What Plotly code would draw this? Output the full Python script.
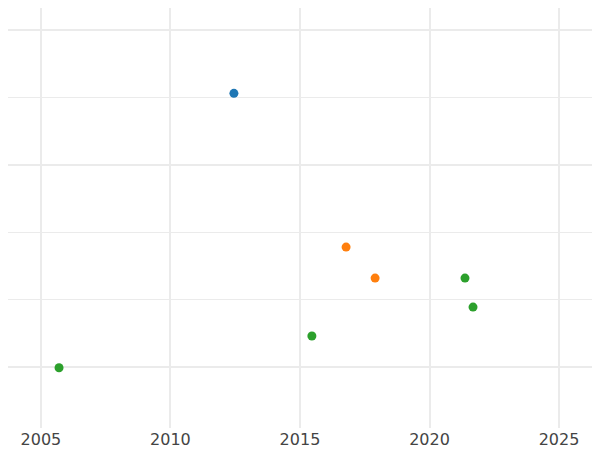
import plotly.graph_objects as go

blue_x = [2012.45]
blue_y = [5.06]
orange_x = [2016.78, 2017.9]
orange_y = [2.78, 2.32]
green_x = [2005.7, 2015.46, 2021.37, 2021.68]
green_y = [0.99, 1.46, 2.32, 1.89]
x_ticks = [2005, 2010, 2015, 2020, 2025]

fig = go.Figure()
for xs, ys, c in [(blue_x, blue_y, "#1f77b4"), (orange_x, orange_y, "#ff7f0e"), (green_x, green_y, "#2ca02c")]:
    fig.add_trace(go.Scatter(x=xs, y=ys, mode="markers", marker=dict(color=c, size=9), showlegend=False, cliponaxis=False))

fig.update_layout(
    width=600, height=450, margin=dict(l=0, r=0, t=0, b=30),
    plot_bgcolor="white", paper_bgcolor="white",
    xaxis=dict(range=[2003.73, 2026.89], tickvals=x_ticks, ticktext=[str(v) for v in x_ticks],
               gridcolor="#ebebeb", gridwidth=1.5, zeroline=False, showline=False, automargin=False,
               ticks="", ticklen=0,
               tickfont=dict(family="DejaVu Sans", size=16, color="#444")),
    yaxis=dict(range=[0.096, 6.326], tickvals=[1, 4, 6], showticklabels=False, automargin=False,
               gridcolor="#ebebeb", gridwidth=2, zeroline=False, showline=False,
               minor=dict(tickvals=[2, 3, 5], showgrid=True, gridcolor="#ebebeb", gridwidth=1)),
)
fig.write_html("out.html")
